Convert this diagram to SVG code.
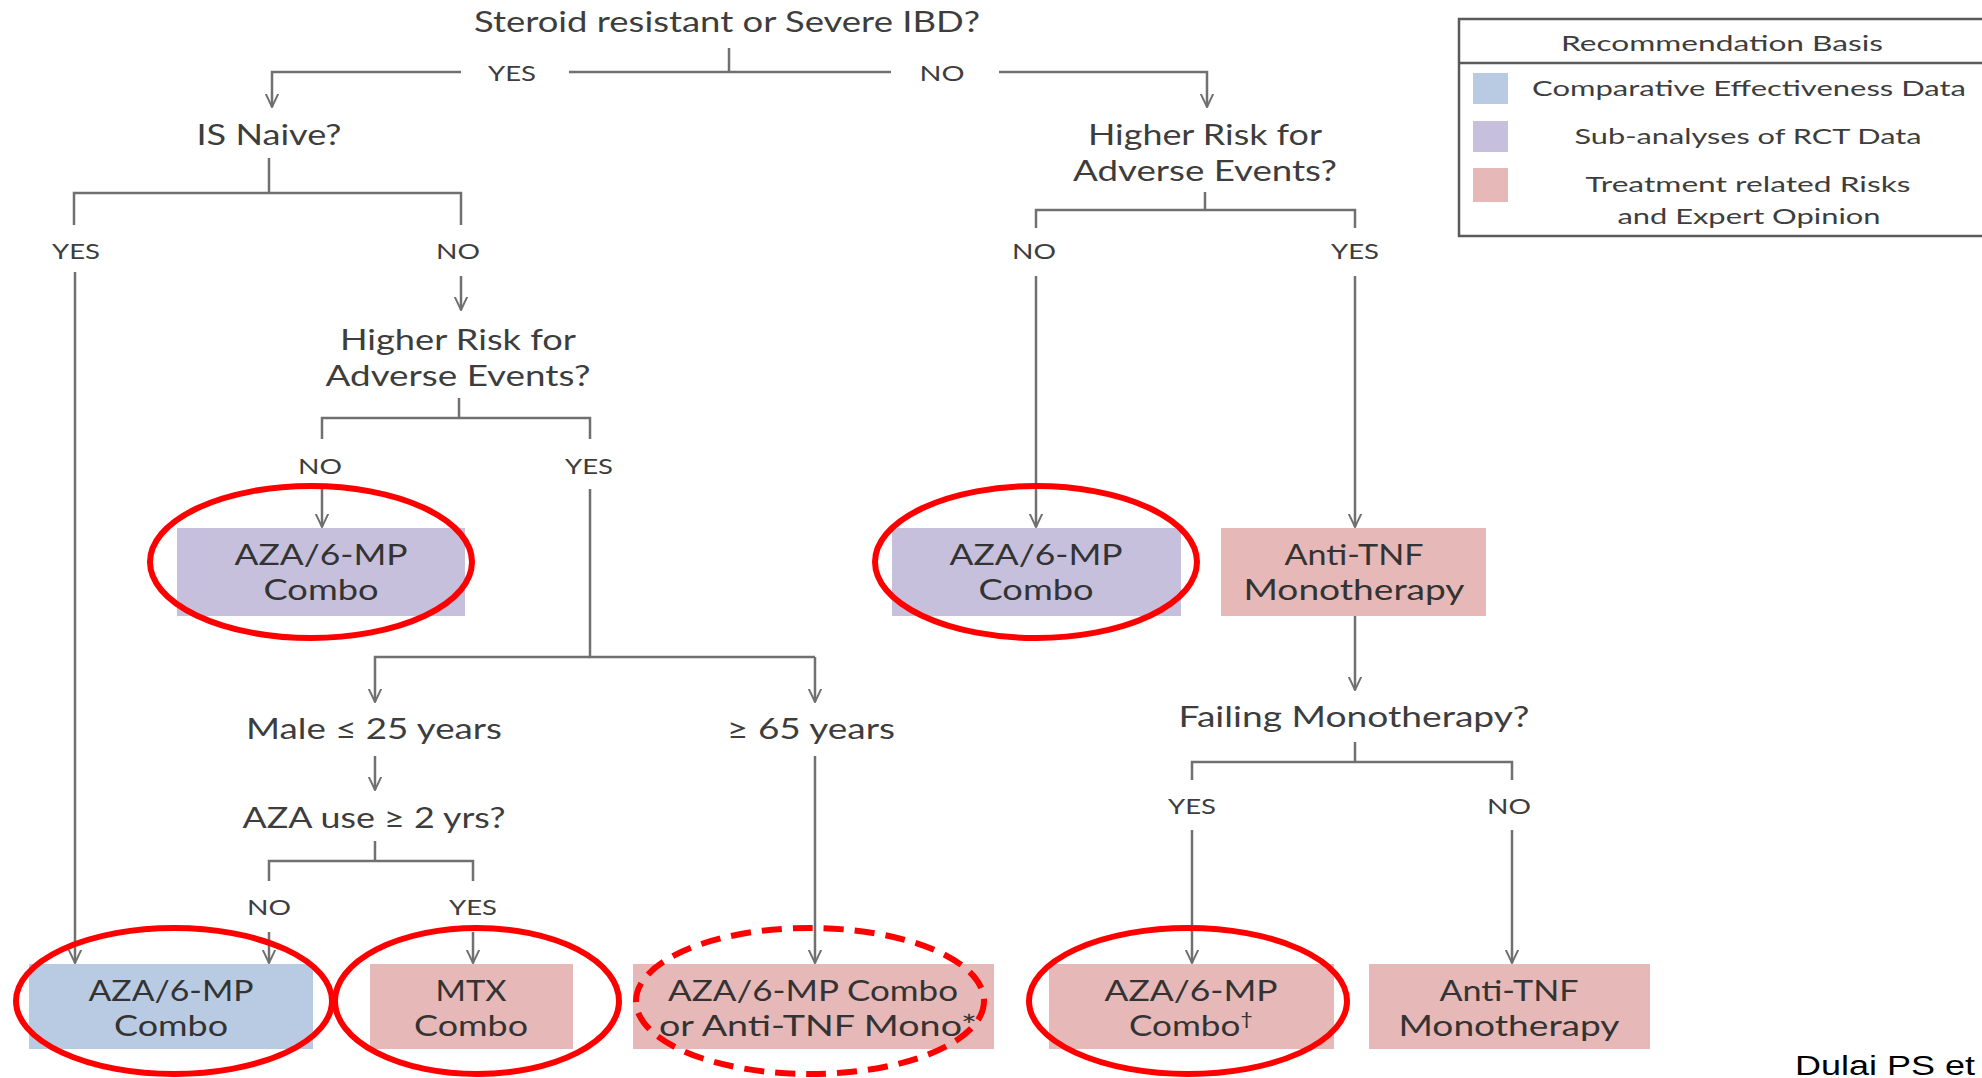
<svg xmlns="http://www.w3.org/2000/svg" width="1982" height="1078" viewBox="0 0 1982 1078">
<style>
  text { font-family: Lato, "Open Sans", "Liberation Sans", sans-serif; fill: #3d3d3d; text-anchor: middle; }
  .q { font-size: 29px; }
  .lbl { font-size: 22px; }
  .bt { font-size: 29px; fill: #333333; }
  .leg { font-size: 21px; }
  .ln { fill: none; stroke: #707070; stroke-width: 2.5; }
  .ar { marker-end: url(#arr); }
  .blue { fill: #b9cbe2; }
  .purple { fill: #c6c0dc; }
  .pink { fill: #e6b8b8; }
  .ring { fill: none; stroke: #ff0000; stroke-width: 6; }
  .dash { stroke-dasharray: 20 11; }
</style>
<defs>
  <marker id="arr" viewBox="0 0 10 10" refX="9.5" refY="5" markerWidth="14" markerHeight="14" markerUnits="userSpaceOnUse" orient="auto">
    <path d="M0,0.5 L9.5,5 L0,9.5" fill="none" stroke="#707070" stroke-width="1.4"/>
  </marker>
</defs>
<rect width="1982" height="1078" fill="#ffffff"/>

<g id="connectors">
  <path class="ln" d="M729,48 V72"/>
  <path class="ln" d="M569,72 H891"/>
  <path class="ln ar" d="M461,72 H272 V107"/>
  <path class="ln ar" d="M999,72 H1207 V107"/>
  <path class="ln" d="M269,158 V193"/>
  <path class="ln" d="M74,225 V193 H461 V225"/>
  <path class="ln ar" d="M75,272 V963"/>
  <path class="ln ar" d="M461,276 V310"/>
  <path class="ln" d="M459,398 V418"/>
  <path class="ln" d="M322,439 V418 H590 V439"/>
  <path class="ln ar" d="M322,487 V527"/>
  <path class="ln" d="M590,489 V657 H815"/>
  <path class="ln ar" d="M590,657 H375 V702"/>
  <path class="ln ar" d="M815,657 V702"/>
  <path class="ln ar" d="M375,756 V790"/>
  <path class="ln" d="M375,841 V861"/>
  <path class="ln" d="M269,881 V861 H473 V881"/>
  <path class="ln ar" d="M269,932 V963"/>
  <path class="ln ar" d="M473,932 V963"/>
  <path class="ln ar" d="M815,756 V963"/>
  <path class="ln" d="M1205,192 V210"/>
  <path class="ln" d="M1036,228 V210 H1355 V228"/>
  <path class="ln ar" d="M1036,276 V527"/>
  <path class="ln ar" d="M1355,276 V527"/>
  <path class="ln ar" d="M1355,616 V690"/>
  <path class="ln" d="M1355,742 V762"/>
  <path class="ln" d="M1192,780 V762 H1512 V780"/>
  <path class="ln ar" d="M1192,830 V963"/>
  <path class="ln ar" d="M1512,830 V963"/>
</g>

<g id="labels">
  <text class="lbl" x="512" y="81" textLength="48" lengthAdjust="spacingAndGlyphs">YES</text>
  <text class="lbl" x="942" y="81" textLength="45" lengthAdjust="spacingAndGlyphs">NO</text>
  <text class="lbl" x="76" y="259" textLength="48" lengthAdjust="spacingAndGlyphs">YES</text>
  <text class="lbl" x="458" y="259" textLength="44" lengthAdjust="spacingAndGlyphs">NO</text>
  <text class="lbl" x="320" y="474" textLength="44" lengthAdjust="spacingAndGlyphs">NO</text>
  <text class="lbl" x="589" y="474" textLength="48" lengthAdjust="spacingAndGlyphs">YES</text>
  <text class="lbl" x="269" y="915" textLength="44" lengthAdjust="spacingAndGlyphs">NO</text>
  <text class="lbl" x="473" y="915" textLength="48" lengthAdjust="spacingAndGlyphs">YES</text>
  <text class="lbl" x="1034" y="259" textLength="44" lengthAdjust="spacingAndGlyphs">NO</text>
  <text class="lbl" x="1355" y="259" textLength="48" lengthAdjust="spacingAndGlyphs">YES</text>
  <text class="lbl" x="1192" y="814" textLength="48" lengthAdjust="spacingAndGlyphs">YES</text>
  <text class="lbl" x="1509" y="814" textLength="44" lengthAdjust="spacingAndGlyphs">NO</text>
</g>

<g id="q-root"><text class="q" x="727" y="32" textLength="506" lengthAdjust="spacingAndGlyphs">Steroid resistant or Severe IBD?</text></g>
<g id="q-naive"><text class="q" x="269" y="145" textLength="145" lengthAdjust="spacingAndGlyphs">IS Naive?</text></g>
<g id="q-risk-left">
  <text class="q" x="458" y="350" textLength="236" lengthAdjust="spacingAndGlyphs">Higher Risk for</text>
  <text class="q" x="458" y="386" textLength="265" lengthAdjust="spacingAndGlyphs">Adverse Events?</text>
</g>
<g id="q-risk-right">
  <text class="q" x="1205" y="145" textLength="234" lengthAdjust="spacingAndGlyphs">Higher Risk for</text>
  <text class="q" x="1205" y="181" textLength="264" lengthAdjust="spacingAndGlyphs">Adverse Events?</text>
</g>
<g id="q-male"><text class="q" x="374" y="739" textLength="256" lengthAdjust="spacingAndGlyphs">Male ≤ 25 years</text></g>
<g id="q-65"><text class="q" x="811" y="739" textLength="168" lengthAdjust="spacingAndGlyphs">≥ 65 years</text></g>
<g id="q-aza"><text class="q" x="374" y="828" textLength="263" lengthAdjust="spacingAndGlyphs">AZA use ≥ 2 yrs?</text></g>
<g id="q-failing"><text class="q" x="1354" y="727" textLength="351" lengthAdjust="spacingAndGlyphs">Failing Monotherapy?</text></g>

<g id="n-combo-left">
  <rect class="purple" x="177" y="528" width="288" height="88"/>
  <text class="bt" x="321" y="565" textLength="173" lengthAdjust="spacingAndGlyphs">AZA/6-MP</text>
  <text class="bt" x="321" y="600" textLength="115" lengthAdjust="spacingAndGlyphs">Combo</text>
</g>
<g id="n-combo-right">
  <rect class="purple" x="892" y="528" width="289" height="88"/>
  <text class="bt" x="1036" y="565" textLength="173" lengthAdjust="spacingAndGlyphs">AZA/6-MP</text>
  <text class="bt" x="1036" y="600" textLength="115" lengthAdjust="spacingAndGlyphs">Combo</text>
</g>
<g id="n-anti-top">
  <rect class="pink" x="1221" y="528" width="265" height="88"/>
  <text class="bt" x="1354" y="565" textLength="139" lengthAdjust="spacingAndGlyphs">Anti-TNF</text>
  <text class="bt" x="1354" y="600" textLength="221" lengthAdjust="spacingAndGlyphs">Monotherapy</text>
</g>
<g id="n-combo-blue">
  <rect class="blue" x="29" y="964" width="284" height="85"/>
  <text class="bt" x="171" y="1001" textLength="165" lengthAdjust="spacingAndGlyphs">AZA/6-MP</text>
  <text class="bt" x="171" y="1036" textLength="114" lengthAdjust="spacingAndGlyphs">Combo</text>
</g>
<g id="n-mtx">
  <rect class="pink" x="370" y="964" width="203" height="85"/>
  <text class="bt" x="471" y="1001" textLength="71" lengthAdjust="spacingAndGlyphs">MTX</text>
  <text class="bt" x="471" y="1036" textLength="114" lengthAdjust="spacingAndGlyphs">Combo</text>
</g>
<g id="n-combo-or-anti">
  <rect class="pink" x="633" y="964" width="361" height="85"/>
  <text class="bt" x="813" y="1001" textLength="290" lengthAdjust="spacingAndGlyphs">AZA/6-MP Combo</text>
  <text class="bt" x="818" y="1036" textLength="318" lengthAdjust="spacingAndGlyphs">or Anti-TNF Mono*</text>
</g>
<g id="n-combo-dagger">
  <rect class="pink" x="1049" y="964" width="285" height="85"/>
  <text class="bt" x="1191" y="1001" textLength="173" lengthAdjust="spacingAndGlyphs">AZA/6-MP</text>
  <text class="bt" x="1191" y="1036" textLength="124" lengthAdjust="spacingAndGlyphs">Combo<tspan font-size="18" dy="-11">†</tspan></text>
</g>
<g id="n-anti-bottom">
  <rect class="pink" x="1369" y="964" width="281" height="85"/>
  <text class="bt" x="1509" y="1001" textLength="139" lengthAdjust="spacingAndGlyphs">Anti-TNF</text>
  <text class="bt" x="1509" y="1036" textLength="221" lengthAdjust="spacingAndGlyphs">Monotherapy</text>
</g>

<g id="highlights">
  <ellipse class="ring" cx="311" cy="562" rx="161" ry="76"/>
  <ellipse class="ring" cx="1036" cy="562" rx="161" ry="76"/>
  <ellipse class="ring" cx="174" cy="1001" rx="158" ry="73"/>
  <ellipse class="ring" cx="477" cy="1001" rx="142" ry="73"/>
  <ellipse class="ring dash" cx="810" cy="1001" rx="174" ry="73"/>
  <ellipse class="ring" cx="1188" cy="1001" rx="159" ry="73"/>
</g>

<g id="legend">
  <rect x="1459" y="19" width="540" height="217" fill="#ffffff" stroke="#5a5a5a" stroke-width="2.5"/>
  <line x1="1459" y1="63" x2="1999" y2="63" stroke="#5a5a5a" stroke-width="2.5"/>
  <text class="leg" x="1722" y="51" textLength="322" lengthAdjust="spacingAndGlyphs">Recommendation Basis</text>
  <rect class="blue" x="1473" y="73" width="35" height="31"/>
  <rect class="purple" x="1473" y="121" width="35" height="31"/>
  <rect class="pink" x="1473" y="168" width="35" height="34"/>
  <text class="leg" x="1749" y="96" textLength="434" lengthAdjust="spacingAndGlyphs">Comparative Effectiveness Data</text>
  <text class="leg" x="1748" y="144" textLength="347" lengthAdjust="spacingAndGlyphs">Sub-analyses of RCT Data</text>
  <text class="leg" x="1748" y="192" textLength="325" lengthAdjust="spacingAndGlyphs">Treatment related Risks</text>
  <text class="leg" x="1749" y="224" textLength="263" lengthAdjust="spacingAndGlyphs">and Expert Opinion</text>
</g>

<g id="citation">
  <text x="1795" y="1075" style="font-family: 'Liberation Sans', Arial, sans-serif; font-size: 27px; fill: #000000; text-anchor: start;" textLength="180" lengthAdjust="spacingAndGlyphs">Dulai PS et</text>
</g>
</svg>
